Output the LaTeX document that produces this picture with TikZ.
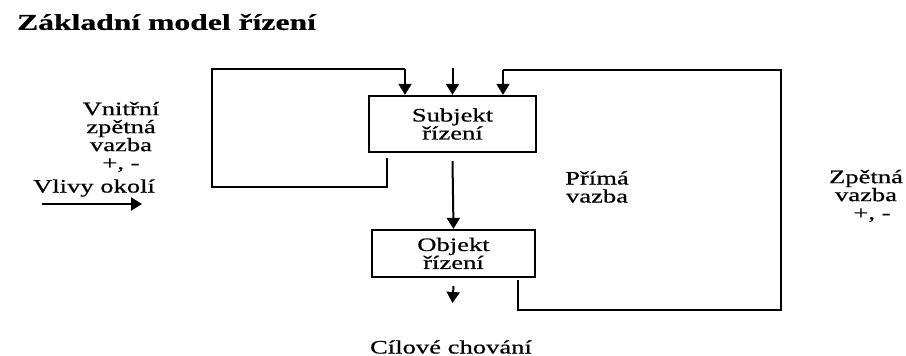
\documentclass[tikz,border=0pt]{standalone}
\usepackage{fontspec}
\setmainfont[FakeStretch=1.4,FakeBold=0.6]{Liberation Serif}
\usetikzlibrary{arrows.meta}

\begin{document}
\begin{tikzpicture}[x=0.5pt,y=-0.5pt,
    popis/.style={align=center,font=\fontsize{9.5}{9}\selectfont},
    blok/.style={popis,draw,line width=1.15pt,inner sep=0pt},
    cara/.style={line width=1pt},
    sipka/.style={cara,-{Triangle[width=6.5pt,length=5.5pt]}}]
    \useasboundingbox (0,0) rectangle (906,356);

    % Title
    \node[anchor=west,font=\fontsize{11.3}{12}\selectfont\bfseries] (nadpis) at (10,22) {Základní model řízení};

    % Define the two blocks
    \node[blok,minimum width=83.5pt,minimum height=28pt] (subj) at (452.5,124) {Subjekt\\řízení};
    \node[blok,minimum width=81.5pt,minimum height=23.5pt] (obj) at (453.5,253.5) {Objekt\\řízení};

    % Define the points of the loops
    \coordinate (vnStart) at (387,158);
    \coordinate (vnLeft) at (212,187);
    \coordinate (vnEnd) at (405,69);
    \coordinate (okoliTop) at (452.5,68);
    \coordinate (zpStart) at (518,280);
    \coordinate (zpRight) at (781,310);
    \coordinate (zpEnd) at (503,70);
    \coordinate (cilEnd) at (452.5,303);
    \coordinate (vlStart) at (42,204);
    \coordinate (vlEnd) at (142,204);

    % Draw the inner feedback loop
    \draw[cara] (vnStart) |- (vnLeft) |- (vnEnd);
    \draw[sipka] (vnEnd) -- (vnEnd |- subj.north);

    % Draw the straight arrows
    \draw[sipka] (okoliTop) -- (okoliTop |- subj.north);
    \draw[sipka] ([yshift=-4pt]subj.south) -- (obj.north);
    \draw[sipka] ([yshift=-4pt]obj.south) -- (cilEnd);
    \draw[sipka] (vlStart) -- (vlEnd);

    % Draw the outer feedback loop
    \draw[cara] (zpStart) |- (zpRight) |- (zpEnd);
    \draw[sipka] (zpEnd) -- (zpEnd |- subj.north);

    % Place the labels
    \node[popis] (vnitrni) at (121,137) {Vnitřní\\zpětná\\vazba\\+, -};
    \node[popis] (vlivy) at (94,188) {Vlivy okolí};
    \node[popis] (prima) at (597,187) {Přímá\\vazba};
    \node[popis] (zpetna) at (866,196) {Zpětná\\vazba\\\hspace*{6pt}+, -};
    \node[popis] (cil) at (451,347) {Cílové chování};

\end{tikzpicture}
\end{document}
